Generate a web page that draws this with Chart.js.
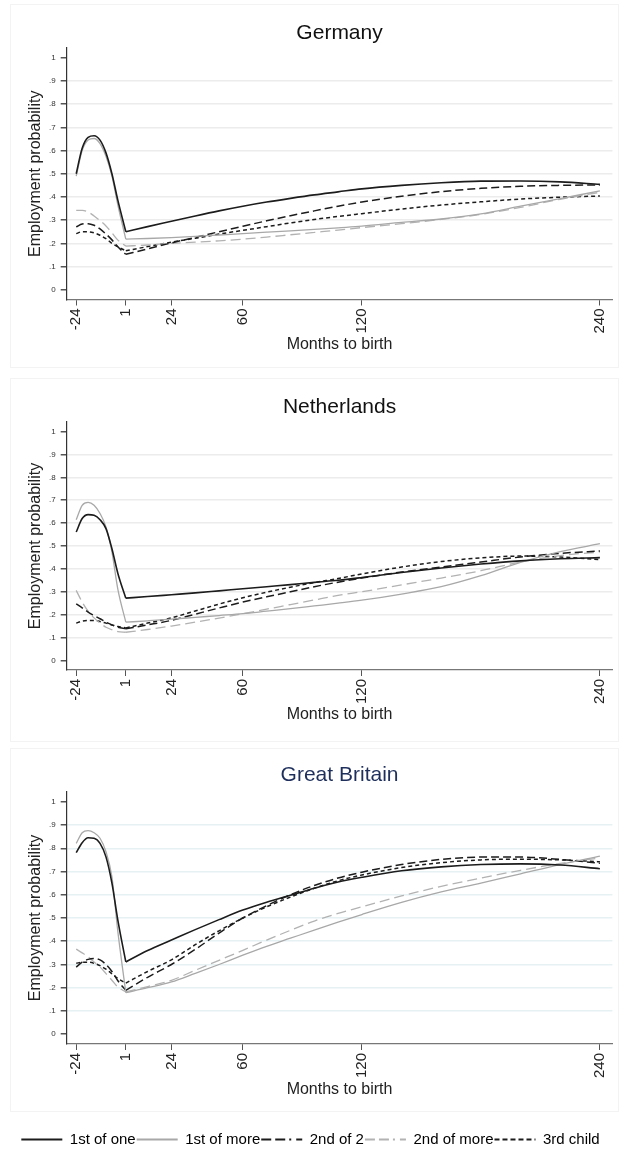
<!DOCTYPE html>
<html>
<head>
<meta charset="utf-8">
<script src="https://cdn.jsdelivr.net/npm/chart.js@4.4.1/dist/chart.umd.min.js"></script>
<style>
  body { margin: 0; background: #fff; width: 621px; height: 1153px; position: relative; overflow: hidden; }
  .panel { position: absolute; left: 0; width: 621px; }
  .frame { position: absolute; left: 10px; width: 607px; border: 1px solid #f3f3f3; }
</style>
</head>
<body>
<div class="frame" style="top:4px;height:362px"></div>
<div class="frame" style="top:378px;height:362px"></div>
<div class="frame" style="top:748px;height:362px"></div>

<div class="panel" style="top:0px;height:360px"><canvas id="de" width="621" height="360"></canvas></div>
<div class="panel" style="top:374px;height:360px"><canvas id="nl" width="621" height="360"></canvas></div>
<div class="panel" style="top:744px;height:360px"><canvas id="gb" width="621" height="360"></canvas></div>
<div class="panel" style="top:1131px;height:60px"><canvas id="legend" width="621" height="60"></canvas></div>

<script>
// months relative to birth; index 8 (month 1) is where the pre- and post-birth curves meet
const months = [-24, -21, -18, -15, -12, -9, -6, -3, 1, 12, 24, 36, 48, 60, 72, 84, 96, 108, 120, 140, 160, 180, 200, 220, 240];
const xTicks = [-24, 1, 24, 60, 120, 240];
const yTicks = [0, 0.1, 0.2, 0.3, 0.4, 0.5, 0.6, 0.7, 0.8, 0.9, 1];
const yTickLabels = ['0', '.1', '.2', '.3', '.4', '.5', '.6', '.7', '.8', '.9', '1'];
const seriesNames = ['1st of one', '1st of more', '2nd of 2', '2nd of more', '3rd child'];

// Germany
const deFirstOfOne  = [.50, .61, .657, .664, .645, .59, .50, .385, .25, .272, .295, .318, .34, .36, .378, .394, .409, .422, .435, .45, .461, .468, .469, .465, .454];
const deFirstOfMore = [.49, .60, .645, .652, .63, .575, .49, .365, .218, .221, .225, .23, .236, .242, .248, .254, .26, .267, .274, .29, .305, .327, .36, .393, .426];
const deSecondOf2   = [.271, .283, .285, .278, .262, .24, .215, .185, .153, .176, .202, .226, .25, .274, .297, .319, .34, .36, .378, .403, .423, .437, .446, .45, .452];
const deSecondOfMore = [.342, .342, .335, .318, .298, .275, .245, .214, .188, .193, .2, .205, .211, .218, .227, .237, .247, .257, .268, .285, .303, .325, .355, .39, .42];
const deThirdChild  = [.242, .25, .25, .245, .235, .22, .2, .185, .168, .186, .205, .222, .24, .256, .272, .288, .303, .316, .328, .348, .365, .379, .391, .399, .404];

// Netherlands
const nlFirstOfOne  = [.561, .62, .637, .634, .615, .576, .488, .38, .272, .279, .287, .295, .304, .313, .322, .331, .341, .35, .362, .384, .404, .421, .435, .444, .449];
const nlFirstOfMore = [.615, .678, .691, .678, .642, .583, .474, .31, .167, .173, .18, .188, .196, .204, .215, .226, .238, .25, .263, .29, .322, .37, .428, .475, .51];
const nlSecondOf2   = [.247, .23, .211, .196, .182, .167, .155, .145, .138, .155, .175, .202, .229, .255, .278, .30, .322, .342, .36, .386, .408, .43, .452, .468, .478];
const nlSecondOfMore = [.306, .255, .215, .186, .163, .145, .134, .126, .123, .135, .15, .167, .185, .204, .224, .244, .264, .284, .30, .33, .36, .392, .43, .458, .474];
const nlThirdChild  = [.163, .172, .174, .174, .17, .163, .155, .148, .142, .163, .186, .216, .246, .274, .298, .32, .34, .358, .378, .408, .432, .448, .456, .452, .44];

// Great Britain
const gbFirstOfOne  = [.781, .824, .845, .843, .821, .763, .65, .49, .311, .36, .405, .45, .493, .534, .568, .598, .628, .655, .675, .703, .72, .73, .733, .728, .712];
const gbFirstOfMore = [.821, .867, .876, .867, .843, .785, .677, .44, .179, .20, .225, .262, .30, .34, .378, .413, .448, .482, .515, .567, .612, .65, .69, .73, .766];
const gbSecondOf2   = [.289, .31, .322, .326, .32, .30, .27, .23, .189, .245, .30, .365, .435, .50, .553, .60, .64, .672, .697, .73, .752, .762, .762, .752, .735];
const gbSecondOfMore = [.366, .35, .333, .311, .289, .261, .232, .203, .182, .205, .232, .275, .318, .361, .405, .447, .487, .52, .548, .595, .636, .672, .705, .735, .758];
const gbThirdChild  = [.305, .31, .31, .305, .295, .28, .26, .24, .22, .27, .32, .385, .445, .50, .548, .59, .628, .66, .685, .717, .738, .75, .753, .75, .742];

const seriesColors = ['#1c1c1c', '#a8a8a8', '#1c1c1c', '#b2b2b2', '#1c1c1c'];
const seriesDash = [[], [], [8, 4], [10, 5], [4, 3]];
const legendDash = [[], [], [10, 4, 10, 4, 2, 5], [10, 4, 10, 4, 2, 5], [5, 3]];
const seriesWidth = [1.6, 1.3, 1.5, 1.3, 1.5];

Chart.defaults.font.family = '"Liberation Sans", Arial, Helvetica, sans-serif';
Chart.defaults.color = '#222';

const birthIdx = months.indexOf(1);

// draws the panel heading centred over the plot area
const panelTitle = {
  id: 'panelTitle',
  afterDraw(chart, args, opts) {
    const { ctx, chartArea } = chart;
    ctx.save();
    ctx.font = '21px "Liberation Sans", Arial, sans-serif';
    ctx.fillStyle = opts.color;
    ctx.textAlign = 'center';
    ctx.textBaseline = 'middle';
    ctx.fillText(opts.text, (chartArea.left + chartArea.right) / 2, opts.y);
    ctx.restore();
  }
};

function segment(vals, from, to) {
  const pts = [];
  for (let i = from; i <= to; i++) pts.push({ x: months[i], y: vals[i] });
  return pts;
}

function makePanel(id, title, titleColor, titleY, plotBottom, xTitleY, gridColor, series) {
  const datasets = [];
  series.forEach((vals, i) => {
    // pre-birth and post-birth curves join with a kink at month 1
    [[0, birthIdx], [birthIdx, months.length - 1]].forEach(([a, b]) => {
      datasets.push({
        label: seriesNames[i],
        data: segment(vals, a, b),
        borderColor: seriesColors[i],
        borderWidth: seriesWidth[i],
        borderDash: seriesDash[i],
        pointRadius: 0,
        fill: false,
        cubicInterpolationMode: 'monotone'
      });
    });
  });

  new Chart(document.getElementById(id), {
    type: 'line',
    data: { datasets: datasets },
    plugins: [panelTitle],
    options: {
      responsive: false,
      animation: false,
      layout: { padding: { top: 48, right: 4.3, left: 0, bottom: 0 } },
      scales: {
        x: {
          type: 'linear',
          min: -28.8,
          max: 246.3,
          afterBuildTicks: s => { s.ticks = xTicks.map(v => ({ value: v })); },
          afterFit: s => { s.height = 360 - plotBottom; },
          ticks: {
            autoSkip: false, minRotation: 90, maxRotation: 90,
            font: { size: 15 }, color: '#222', padding: 3,
            callback: v => String(v)
          },
          grid: { drawOnChartArea: false, drawTicks: true, tickLength: 6, tickColor: '#555' },
          border: { color: '#777', width: 1.2 },
          title: {
            display: true, text: 'Months to birth', font: { size: 16 }, color: '#222',
            padding: { top: 0, bottom: 350.4 - xTitleY }
          }
        },
        y: {
          min: -0.042,
          max: 1.042,
          afterBuildTicks: s => { s.ticks = yTicks.map(v => ({ value: v })); },
          afterFit: s => { s.width = 66.7; },
          ticks: {
            font: { size: 8 }, color: '#333', padding: 5,
            callback: (v, i) => yTickLabels[i]
          },
          grid: {
            color: c => (c.tick && (c.tick.value === 0 || c.tick.value === 1)) ? 'rgba(0,0,0,0)' : gridColor,
            lineWidth: 1.5, drawTicks: true, tickLength: 6, tickColor: '#555'
          },
          border: { color: '#333', width: 1.2 },
          title: {
            display: true, text: 'Employment probability', font: { size: 16 }, color: '#222',
            padding: { top: 26.4, bottom: 0 }
          }
        }
      },
      plugins: {
        legend: { display: false },
        tooltip: { enabled: false },
        panelTitle: { text: title, color: titleColor, y: titleY }
      }
    }
  });
}

makePanel('de', 'Germany', '#111', 33, 299.5, 345, '#ececec',
  [deFirstOfOne, deFirstOfMore, deSecondOf2, deSecondOfMore, deThirdChild]);
makePanel('nl', 'Netherlands', '#111', 33, 296, 341, '#ececec',
  [nlFirstOfOne, nlFirstOfMore, nlSecondOf2, nlSecondOfMore, nlThirdChild]);
makePanel('gb', 'Great Britain', '#1e2f5c', 31.7, 300, 346, '#e6f1f3',
  [gbFirstOfOne, gbFirstOfMore, gbSecondOf2, gbSecondOfMore, gbThirdChild]);

// legend-only chart under the three panels
new Chart(document.getElementById('legend'), {
  type: 'line',
  data: { datasets: seriesNames.map(n => ({ label: n, data: [] })) },
  options: {
    responsive: false,
    animation: false,
    layout: { padding: 0 },
    scales: { x: { display: false }, y: { display: false } },
    plugins: {
      tooltip: { enabled: false },
      legend: {
        display: true,
        position: 'top',
        align: 'center',
        maxHeight: 40,
        labels: {
          usePointStyle: true,
          pointStyle: 'line',
          pointStyleWidth: 41,
          boxHeight: 15,
          padding: 1,
          color: '#222',
          font: { size: 15 },
          generateLabels: () => seriesNames.map((n, i) => ({
            text: n,
            fillStyle: seriesColors[i],
            strokeStyle: seriesColors[i],
            lineWidth: 2,
            lineDash: legendDash[i],
            pointStyle: 'line',
            hidden: false,
            datasetIndex: i
          }))
        }
      }
    }
  }
});
</script>
</body>
</html>
